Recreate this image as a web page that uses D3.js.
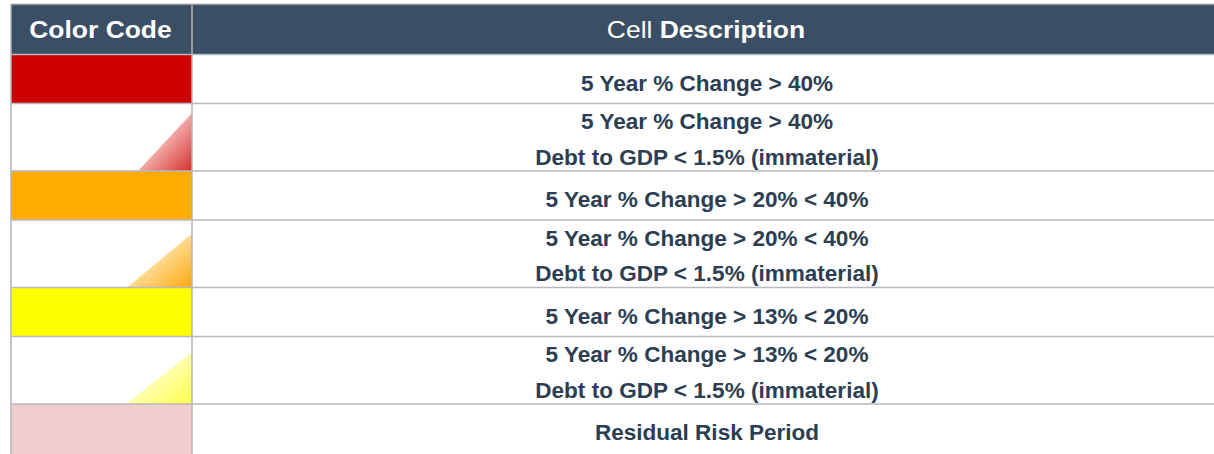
<!DOCTYPE html>
<html>
<head>
<meta charset="utf-8">
<script src="https://cdn.jsdelivr.net/npm/d3@7"></script>
<style>
  html, body { margin: 0; padding: 0; background: #fff; }
  svg { display: block; }
  text { font-family: "Liberation Sans", Arial, Helvetica, sans-serif; }
</style>
</head>
<body>
<svg id="chart" width="1214" height="454"></svg>
<script>
// ---- data ----
const headerLeft = "Color Code";
const headerRightPlain = "Cell ";
const headerRightBold = "Description";

const descriptions = [
  ["5 Year % Change > 40%"],
  ["5 Year % Change > 40%", "Debt to GDP < 1.5% (immaterial)"],
  ["5 Year % Change > 20% < 40%"],
  ["5 Year % Change > 20% < 40%", "Debt to GDP < 1.5% (immaterial)"],
  ["5 Year % Change > 13% < 20%"],
  ["5 Year % Change > 13% < 20%", "Debt to GDP < 1.5% (immaterial)"],
  ["Residual Risk Period"]
];
const swatchKinds = ["solid", "triangle", "solid", "triangle", "solid", "triangle", "solid"];
const swatchColors = ["#cc0000", "red", "#ffab00", "orange", "#ffff00", "yellow", "#f2cdcd"];

// ---- styles / layout ----
const gradients = {
  red:    ["#f2a8a6", "#d42f2b"],
  orange: ["#ffd98e", "#ffa90c"],
  yellow: ["#ffffae", "#ffff48"]
};
const triSizes = [null, [54, 58], null, [65, 54], null, [66, 52], null];

const W = 1214, H = 454;
const left = 11, divider = 192, right = 1222;
const headerTop = 5, headerH = 49.5;
const headSx = 1.15, bodySx = 1.025; // horizontal stretch of glyphs
const rowH = n => 30.5 + 18.5 * n;

const svg = d3.select("#chart");
const defs = svg.append("defs");

Object.entries(gradients).forEach(([k, c]) => {
  const g = defs.append("linearGradient").attr("id", "g-" + k)
    .attr("x1", 0.5).attr("y1", 0.5).attr("x2", 1).attr("y2", 1);
  g.append("stop").attr("offset", 0).attr("stop-color", c[0]);
  g.append("stop").attr("offset", 1).attr("stop-color", c[1]);
});

// row positions
const rows = [];
let y = headerTop + headerH;
descriptions.forEach((lines, i) => {
  const h = rowH(lines.length);
  rows.push({ i, lines, y0: y, y1: y + h, kind: swatchKinds[i], color: swatchColors[i], tri: triSizes[i] });
  y += h;
});
// last row continues past the bottom edge of the picture
rows[rows.length - 1].y1 = rows[rows.length - 1].y0 + 60;

const x = d3.scaleOrdinal().domain(["code", "desc"]).range([left, divider]);
const colW = { code: divider - left, desc: right - divider };

// header background
svg.append("rect").attr("x", left).attr("y", headerTop).attr("width", right - left).attr("height", headerH)
  .attr("fill", "#3a4f66");

// swatches
const rg = svg.selectAll("g.row").data(rows).join("g").attr("class", "row");
rg.filter(d => d.kind === "solid").append("rect")
  .attr("x", x("code")).attr("y", d => d.y0)
  .attr("width", colW.code).attr("height", d => d.y1 - d.y0)
  .attr("fill", d => d.color);
rg.filter(d => d.kind === "triangle").append("path")
  .attr("d", d => {
    const [tw, th] = d.tri;
    return d3.line()([[divider, d.y1 - th], [divider, d.y1], [divider - tw, d.y1]]) + "Z";
  })
  .attr("fill", d => "url(#g-" + d.color + ")");

// grid lines
const hLines = [headerTop + headerH].concat(rows.map(r => r.y1)).filter(v => v < H);
svg.selectAll("line.h").data(hLines).join("line").attr("class", "h")
  .attr("x1", left).attr("x2", right).attr("y1", d => d).attr("y2", d => d)
  .attr("stroke", "#b7b9bf").attr("stroke-width", 1.5);
svg.append("line").attr("x1", left).attr("x2", right).attr("y1", headerTop - 0.5).attr("y2", headerTop - 0.5)
  .attr("stroke", "#8e8e8e").attr("stroke-width", 1.5);
svg.append("line").attr("x1", left).attr("x2", left).attr("y1", headerTop - 1).attr("y2", H)
  .attr("stroke", "#b4b4b4").attr("stroke-width", 1.5);
svg.append("line").attr("x1", divider).attr("x2", divider).attr("y1", headerTop).attr("y2", H)
  .attr("stroke", "#b4b4b4").attr("stroke-width", 1.5);

// header text
const hc = headerTop + headerH / 2;
svg.append("text")
  .attr("transform", `translate(${x("code") + colW.code / 2 - 1},${hc + 8.3}) scale(${headSx},1)`)
  .attr("text-anchor", "middle").attr("fill", "#fff")
  .attr("font-size", 23).attr("font-weight", "bold").text(headerLeft);
const ht = svg.append("text")
  .attr("transform", `translate(${x("desc") + colW.desc / 2 - 1},${hc + 8.3}) scale(${headSx},1)`)
  .attr("text-anchor", "middle").attr("fill", "#fff").attr("font-size", 23);
ht.append("tspan").attr("font-weight", "normal").text(headerRightPlain);
ht.append("tspan").attr("font-weight", "bold").text(headerRightBold);

// description text
rg.each(function(d) {
  const g = d3.select(this);
  const n = d.lines.length;
  const base = n === 1 ? d.y0 + 36 : d.y0 + 25.5;
  d.lines.forEach((t, k) => {
    g.append("text")
      .attr("transform", `translate(${x("desc") + colW.desc / 2},${base + k * 35.5}) scale(${bodySx},1)`)
      .attr("text-anchor", "middle").attr("fill", "#2c3e52")
      .attr("font-size", 22).attr("font-weight", "bold").text(t);
  });
});
</script>
</body>
</html>
